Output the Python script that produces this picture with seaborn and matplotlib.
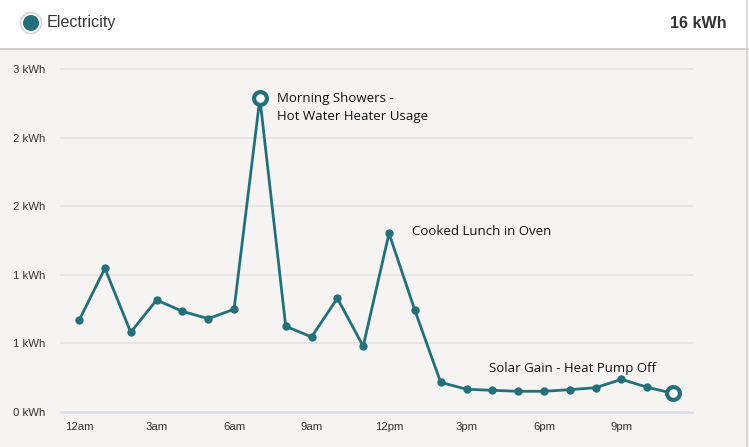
import matplotlib
matplotlib.use("Agg")
import matplotlib.pyplot as plt
import seaborn as sns
import pandas as pd
from matplotlib.patches import Rectangle, Circle
from matplotlib.lines import Line2D

hours = ["12am", "1am", "2am", "3am", "4am", "5am", "6am", "7am", "8am", "9am", "10am", "11am",
         "12pm", "1pm", "2pm", "3pm", "4pm", "5pm", "6pm", "7pm", "8pm", "9pm", "10pm", "11pm"]
usage_kwh = [0.668, 1.047, 0.581, 0.816, 0.734, 0.680, 0.749, 2.286, 0.625, 0.547, 0.829, 0.479,
             1.302, 0.741, 0.216, 0.166, 0.158, 0.151, 0.151, 0.163, 0.177, 0.238, 0.180, 0.136]
highlight_hours = ["7am", "11pm"]
y_ticks = [0, 0.5, 1.0, 1.5, 2.0, 2.5]
y_tick_labels = ["0 kWh", "1 kWh", "1 kWh", "2 kWh", "2 kWh", "3 kWh"]
x_tick_labels = ["12am", "3am", "6am", "9am", "12pm", "3pm", "6pm", "9pm"]
series_name = "Electricity"
total_label = "16 kWh"
notes = [("7am", "Morning Showers -\nHot Water Heater Usage", (17, -9)),
         ("12pm", "Cooked Lunch in Oven", (23, 2)),
         ("6pm", "Solar Gain - Heat Pump Off", (-55, 23))]

TEAL = "#23707b"
BG = "#f5f4f3"

df = pd.DataFrame({"hour": hours, "kwh": usage_kwh})
df["idx"] = range(len(df))
hl = df[df["hour"].isin(highlight_hours)]

W, H = 749, 447
fig = plt.figure(figsize=(W / 100, H / 100), dpi=100)
fig.patch.set_facecolor(BG)

# header band
fig.add_artist(Rectangle((0, 1 - 48 / H), 1, 48 / H, transform=fig.transFigure,
                         facecolor="white", edgecolor="none", zorder=0))
fig.add_artist(Line2D([0, 1], [1 - 48.5 / H] * 2, transform=fig.transFigure,
                      color="#c6c6c6", lw=1.2))
fig.add_artist(Line2D([1 - 2.5 / W] * 2, [0, 1], transform=fig.transFigure,
                      color="#d2d2d2", lw=1.2))
hax = fig.add_axes([0, 1 - 48 / H, 1, 48 / H])
hax.set_axis_off()
hax.add_patch(Circle((31, 23), 10.5, facecolor="white", edgecolor="#cfcfcf", lw=1.0))
hax.add_patch(Circle((31, 23), 8, facecolor=TEAL, edgecolor="none"))
hax.set_aspect("equal", adjustable="datalim")
hax.set_xlim(0, W)
hax.set_ylim(48, 0)
fig.text(47 / W, 1 - 23 / H, series_name, ha="left", va="center", fontsize=11.6,
         family="Liberation Sans", color="#333333")
fig.text(727 / W, 1 - 23 / H, total_label, ha="right", va="center", fontsize=11.6,
         family="Liberation Sans", weight="bold", color="#333333")

ax = fig.add_axes([61 / W, (H - 412) / H, (692 - 61) / W, (412 - 69) / H])
ax.set_facecolor(BG)

sns.lineplot(data=df, x="idx", y="kwh", ax=ax, color=TEAL, lw=2, marker="o",
             markersize=6, markeredgewidth=0, zorder=3)
sns.scatterplot(data=hl, x="idx", y="kwh", ax=ax, s=85, facecolor="white",
                edgecolor=TEAL, linewidth=3.0, zorder=4)

ax.set_xlim(-0.7, 23.73)
ax.set_ylim(0, 2.5)
ax.set_yticks(y_ticks)
ax.set_yticklabels(y_tick_labels)
ax.set_xticks([hours.index(h) for h in x_tick_labels])
ax.set_xticklabels(x_tick_labels)
ax.tick_params(axis="both", length=0, labelsize=8.2, labelcolor="#333333")
ax.tick_params(axis="y", pad=11.5)
ax.tick_params(axis="x", pad=7)
for lab in ax.get_xticklabels() + ax.get_yticklabels():
    lab.set_family("Liberation Sans")
ax.set_xlabel("")
ax.set_ylabel("")
for s in ax.spines.values():
    s.set_visible(False)
for yt in y_ticks[1:]:
    ax.axhline(yt, color="#e6e5e4", lw=1.5, zorder=1, clip_on=False)
ax.axhline(0, color="#dde0ea", lw=2, zorder=2, clip_on=False)

for hr, txt, off in notes:
    i = hours.index(hr)
    ax.annotate(txt, xy=(i, usage_kwh[i]), xytext=(off[0] * 0.72, off[1] * 0.72),
                textcoords="offset points", ha="left", va="center",
                fontsize=9.5, family="Open Sans", color="#111111", linespacing=1.45,
                annotation_clip=False)

fig.savefig("out.png", dpi=100, facecolor=fig.get_facecolor())
